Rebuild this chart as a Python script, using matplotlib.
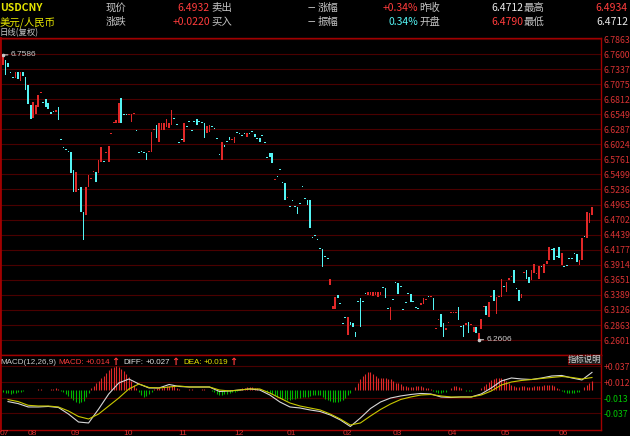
import numpy as np
import matplotlib
matplotlib.use('Agg')
import matplotlib.pyplot as plt
from matplotlib.patches import Rectangle
from matplotlib.transforms import blended_transform_factory, ScaledTranslation

plt.rcParams['font.family'] = ['Noto Sans CJK SC', 'DejaVu Sans']

# daily candles, USDCNY (open / close)
OPEN = [
    6.7409, 6.7496, 6.7444, 6.7272, 6.7184, 6.7181, 6.7286, 6.7129, 6.7286, 6.7199,
    6.7059, 6.6709, 6.6482, 6.6552, 6.6674, 6.6916, 6.6762, 6.6814, 6.6744, 6.6587,
    6.6590, 6.6587, 6.6674, 6.6100, 6.5961, 6.5926, 6.5891, 6.5888, 6.5573, 6.5188,
    6.5226, 6.5276, 6.4839, 6.4786, 6.5276, 6.5413, 6.5535, 6.5538, 6.5520, 6.5713,
    6.5716, 6.5867, 6.5713, 6.6199, 6.6392, 6.6395, 6.6395, 6.6832, 6.6538, 6.6538,
    6.6532, 6.6412, 6.6549, 6.6258, 6.5873, 6.5891, 6.5873, 6.5870, 6.5888, 6.5888,
    6.6269, 6.6360, 6.6062, 6.6272, 6.6272, 6.6325, 6.6307, 6.6360, 6.6468, 6.6363,
    6.6048, 6.6100, 6.6062, 6.6328, 6.6415, 6.6258, 6.6415, 6.6465, 6.6415, 6.6398,
    6.6395, 6.6220, 6.6237, 6.6328, 6.6293, 6.6118, 6.5838, 6.5748, 6.6010, 6.6065,
    6.6150, 6.6094, 6.6045, 6.6223, 6.6205, 6.6170, 6.6205, 6.6150, 6.6205, 6.6240,
    6.6202, 6.6118, 6.6132, 6.6170, 6.6048, 6.5786, 6.5870, 6.5870, 6.5395, 6.5454,
    6.5576, 6.5349, 6.5346, 6.5080, 6.4929, 6.5034, 6.4929, 6.4926, 6.4981, 6.5279,
    6.5069, 6.5048, 6.5048, 6.4387, 6.4422, 6.4352, 6.4195, 6.4192, 6.4055, 6.4020,
    6.3562, 6.3143, 6.3143, 6.3387, 6.3233, 6.2883, 6.2988, 6.2688, 6.2915, 6.2898,
    6.2741, 6.3268, 6.3335, 6.3268, 6.3408, 6.3387, 6.3387, 6.3370, 6.3387, 6.3352,
    6.3387, 6.3513, 6.3510, 6.3146, 6.2950, 6.3303, 6.3600, 6.3597, 6.3530, 6.3128,
    6.3251, 6.3408, 6.3405, 6.3268, 6.3163, 6.3146, 6.3213, 6.3230, 6.3297, 6.3355,
    6.3349, 6.3335, 6.2790, 6.2950, 6.3055, 6.2898, 6.2776, 6.2895, 6.3070, 6.3070,
    6.3070, 6.3178, 6.2831, 6.2863, 6.2863, 6.2915, 6.2860, 6.2741, 6.2828, 6.2606,
    6.2793, 6.3175, 6.3195, 6.3003, 6.3349, 6.3475, 6.3055, 6.3349, 6.3352, 6.3530,
    6.3440, 6.3650, 6.3699, 6.3824, 6.3495, 6.3475, 6.3335, 6.3769, 6.3824, 6.3702,
    6.3650, 6.3772, 6.3752, 6.3667, 6.3880, 6.3772, 6.3929, 6.3999, 6.4177, 6.4209,
    6.4055, 6.4227, 6.3912, 6.3880, 6.3897, 6.4020, 6.4020, 6.4107, 6.4104, 6.3912,
    6.3999, 6.4405, 6.4384, 6.4646, 6.4790,
]
CLOSE = [
    6.7586, 6.7234, 6.7374, 6.7266, 6.7178, 6.7286, 6.7164, 6.7286, 6.7216, 6.6972,
    6.6727, 6.6465, 6.6762, 6.6709, 6.6884, 6.6922, 6.6744, 6.6674, 6.6639, 6.6552,
    6.6584, 6.6622, 6.6447, 6.6094, 6.5955, 6.5920, 6.5885, 6.5520, 6.5188, 6.5538,
    6.5220, 6.4839, 6.4349, 6.5276, 6.5486, 6.5419, 6.5541, 6.5363, 6.5748, 6.5975,
    6.5710, 6.5873, 6.5992, 6.6205, 6.6398, 6.6447, 6.6744, 6.6395, 6.6532, 6.6532,
    6.6538, 6.6552, 6.6555, 6.6252, 6.5867, 6.5885, 6.5867, 6.5748, 6.5905, 6.6237,
    6.6275, 6.6132, 6.6395, 6.6395, 6.6395, 6.6465, 6.6395, 6.6622, 6.6462, 6.6357,
    6.6042, 6.6094, 6.6395, 6.6322, 6.6409, 6.6252, 6.6409, 6.6360, 6.6409, 6.6392,
    6.6132, 6.6342, 6.6360, 6.6322, 6.6287, 6.6112, 6.5832, 6.6062, 6.5975, 6.6059,
    6.6097, 6.6100, 6.6150, 6.6217, 6.6199, 6.6164, 6.6199, 6.6220, 6.6199, 6.6234,
    6.6150, 6.6112, 6.6062, 6.6164, 6.6042, 6.5780, 6.5800, 6.5695, 6.5401, 6.5448,
    6.5570, 6.5343, 6.5048, 6.5086, 6.4923, 6.5028, 6.4923, 6.4804, 6.4975, 6.5273,
    6.5063, 6.4961, 6.4559, 6.4381, 6.4416, 6.4346, 6.4189, 6.3877, 6.4049, 6.4014,
    6.3667, 6.3195, 6.3352, 6.3335, 6.3227, 6.2877, 6.2982, 6.3003, 6.2863, 6.2828,
    6.2653, 6.3262, 6.2828, 6.3262, 6.3402, 6.3440, 6.3440, 6.3440, 6.3440, 6.3440,
    6.3440, 6.3507, 6.3335, 6.3140, 6.3178, 6.3297, 6.3594, 6.3405, 6.3524, 6.3122,
    6.3245, 6.3402, 6.3265, 6.3262, 6.3157, 6.3140, 6.3248, 6.3335, 6.3303, 6.3349,
    6.3355, 6.3125, 6.2796, 6.2968, 6.2828, 6.2653, 6.2811, 6.2901, 6.3076, 6.3076,
    6.3076, 6.2950, 6.2825, 6.2653, 6.2898, 6.2723, 6.2866, 6.2828, 6.2723, 6.2723,
    6.2968, 6.3181, 6.3038, 6.3265, 6.3355, 6.3283, 6.3352, 6.3355, 6.3667, 6.3524,
    6.3615, 6.3685, 6.3705, 6.3597, 6.3489, 6.3283, 6.3405, 6.3775, 6.3667, 6.3597,
    6.3824, 6.3929, 6.3758, 6.3894, 6.3874, 6.3929, 6.3982, 6.4227, 6.4171, 6.3999,
    6.4049, 6.4034, 6.4122, 6.3874, 6.3891, 6.4014, 6.4014, 6.4101, 6.3964, 6.3999,
    6.4384, 6.4399, 6.4839, 6.4821, 6.4932,
]

# MACD histogram, one bar per candle
MACD_HIST = [
    -.004, -.005, -.005, -.006, -.005, -.005, -.004, -.003, -.002, -.001,
    0, -.001, -.001, 0, .001, .001, 0, -.001, 0, .001, .001, .002, .001,
    -.002, -.004, -.007, -.010, -.013, -.016, -.019, -.021, -.020, -.017, -.012, -.005,
    .002, .006, .011, .014, .018, .022, .026, .030, .034, .036, .037, .036, .033, .029,
    .024, .020, .014, .008, .003,
    -.004, -.008, -.011, -.010, -.007, -.003,
    .001, .002, .002, .003, .004, .005, .006, .006, .005, .003, .001, -.001, -.001, 0,
    .001, .001, 0, -.001, 0, .001, .001, 0, -.001,
    -.002, -.004, -.006, -.008, -.008, -.007, -.006, -.005, -.004, -.003, -.002,
    .001, .002, .003, .004, .004, .004, .003, .002, .001, 0,
    -.001, -.003, -.005, -.007, -.009, -.011, -.013, -.014, -.015, -.016,
    -.016, -.015, -.014, -.013, -.013, -.012, -.012, -.011, -.010, -.009,
    -.008, -.008, -.009, -.011, -.014, -.016, -.018, -.019, -.020, -.019,
    -.018, -.016, -.013, -.009, -.005, -.001,
    .004, .010, .016, .021, .025, .028, .027, .024, .021, .019,
    .018, .018, .018, .017, .016, .013, .011, .010, .009, .006,
    .005, .004, .004, .004, .005, .006, .005, .004, .003, .002, .001,
    -.002, -.004, -.005, -.005, -.004, -.003, -.001,
    .002, .005, .006, .004, .002,
    -.001, -.002, -.002, -.002, -.001, -.001, 0,
    .002, .005, .009, .012, .015, .017, .018, .018, .018, .016,
    .013, .010, .007, .005, .004, .004, .005, .005, .004, .004,
    .004, .005, .005, .006, .006, .007, .008, .008, .007, .005, .003, .001,
    -.002, -.004, -.005, -.005, -.005, -.005, -.004, -.003, -.001,
    .004, .007, .011, .014,
]

# DIFF / DEA read every 4th candle, starting at candle 2
DIFF = [
    -.0186, -.0217, -.0270, -.0270, -.0262, -.0278, -.0380, -.0505, -.0520, -.0302,
    -.0067, .0105, .0167, .0089, .0027, .0027, .0081, .0050, .0042, .0042,
    .0042, -.0028, -.0020, -.0005, .0011, -.0005, -.0083, -.0192, -.0270, -.0286,
    -.0317, -.0341, -.0395, -.0473, -.0575, -.0442, -.0294, -.0192, -.0130, -.0098,
    -.0075, -.0059, -.0067, -.0114, -.0122, -.0114, -.0114, -.0067, .0027, .0136,
    .0183, .0167, .0159, .0183, .0214, .0222, .0183, .0152, .0270,
]
DEA = [
    -.0155, -.0186, -.0244, -.0255, -.0255, -.0270, -.0333, -.0419, -.0458, -.0380,
    -.0255, -.0130, .0011, .0089, .0034, .0027, .0042, .0058, .0042, .0042,
    .0042, -.0005, -.0020, -.0005, .0011, .0011, -.0052, -.0130, -.0208, -.0255,
    -.0286, -.0317, -.0380, -.0458, -.0552, -.0520, -.0411, -.0309, -.0223, -.0153,
    -.0114, -.0083, -.0075, -.0098, -.0114, -.0114, -.0114, -.0083, -.0020, .0073,
    .0120, .0144, .0159, .0175, .0191, .0206, .0191, .0167, .0190,
]

PRICE_TICKS = ['6.7863', '6.7600', '6.7337', '6.7075', '6.6812', '6.6549', '6.6287',
               '6.6024', '6.5761', '6.5499', '6.5236', '6.4965', '6.4702', '6.4439',
               '6.4177', '6.3914', '6.3651', '6.3389', '6.3126', '6.2863', '6.2601']
MACD_TICKS = ['+0.037', '+0.012', '-0.013', '-0.037']
MONTHS = ['07', '08', '09', '10', '11', '12', '01', '02', '03', '04', '05', '06']
MONTH_START = [0, 11, 28, 49, 71, 93, 114, 136, 156, 178, 199, 222]

# quote header
LAST, CHANGE, PREV_CLOSE, OPEN_PX = '6.4932', '+0.0220', '6.4712', '6.4790'
HIGH_PX, LOW_PX, PCT, AMPLITUDE = '6.4934', '6.4712', '+0.34%', '0.34%'

RED = '#ff3c3c'
RED_BAR = '#e02828'
CYAN = '#54f4f4'
GREEN = '#00b400'
GREY = '#c4c4c4'
YELLOW = '#e6e600'
GRID = '#4a0000'
BORDER = '#a00000'
LATIN = ['Liberation Sans', 'DejaVu Sans']

W, H = 630, 436
fig = plt.figure(figsize=(W / 100, H / 100), dpi=100, facecolor='black')


def px_axes(x0, y0, x1, y1):
    a = fig.add_axes([x0 / W, 1 - y1 / H, (x1 - x0) / W, (y1 - y0) / H])
    a.set_facecolor('black')
    for s in a.spines.values():
        s.set_color(BORDER)
        s.set_linewidth(1)
    a.set_xticks([])
    return a


def ftext(x, y, s, color=GREY, ha='left', size=7.5, **kw):
    return fig.text(x / W, 1 - y / H, s, color=color, ha=ha, va='center', fontsize=size, **kw)


pitch = 2.517  # pixels per candle
ax = px_axes(0, 38, 601, 355)
axm = px_axes(0, 355, 601, 430)
ax.spines['left'].set_linewidth(2)
axm.spines['left'].set_linewidth(2)
for a in (ax, axm):
    a.set_xlim(-3 / pitch, 598 / pitch)

# ---- candles
o = np.array(OPEN)
c = np.array(CLOSE)
n = len(c)
x = np.arange(n)
cols = np.where(c >= o, RED_BAR, CYAN)
body = np.maximum(np.abs(c - o), 0.0024)   # keep flat candles visible as dots
ax.bar(x, body, bottom=np.minimum(o, c), width=0.66, color=cols, linewidth=0)

ax.set_ylim(6.2339, 6.7881)
tick_vals = [float(t) for t in PRICE_TICKS]
for t in tick_vals:
    ax.axhline(t, color=GRID, lw=0.8, zorder=0)
ax.yaxis.tick_right()
ax.set_yticks(tick_vals)
ax.set_yticklabels(PRICE_TICKS, color='#d83232', fontsize=6.3)
ax.tick_params(axis='y', length=0, pad=2)

# max / min markers
top = np.maximum(o, c)
bot = np.minimum(o, c)
for idx, val in ((int(np.argmax(top)), top.max()), (int(np.argmin(bot)), bot.min())):
    ax.annotate(f'{val:.4f}', xy=(idx, val), xytext=(5.5, 0), textcoords='offset points',
                color='#c8c8c8', fontsize=6, va='center', ha='left', family=LATIN,
                arrowprops=dict(arrowstyle='-', color='#c8c8c8', lw=0.8, shrinkA=0, shrinkB=0))
    ax.plot(idx, val, 'o', ms=1.6, color='#c8c8c8')

# ---- MACD panel
h = np.array(MACD_HIST)
axm.vlines(x, 0, h, colors=np.where(h > 0, RED_BAR, GREEN), lw=0.8)
xs = np.arange(2, n, 4)
axm.plot(xs, DIFF, color='#d8d8d8', lw=0.8)
axm.plot(xs, DEA, color='#c8c800', lw=0.8)
axm.set_ylim(-0.0630, 0.0542)
mvals = [float(t) for t in MACD_TICKS]
for t in mvals:
    axm.axhline(t, color=GRID, lw=0.8, zorder=0)
axm.yaxis.tick_right()
axm.set_yticks(mvals)
axm.set_yticklabels(MACD_TICKS, fontsize=6.3)
for lab, v in zip(axm.get_yticklabels(), mvals):
    lab.set_color('#d83232' if v > 0 else '#00c800')
axm.tick_params(axis='y', length=0, pad=2)

tr = blended_transform_factory(axm.transData, axm.transAxes) + \
    ScaledTranslation(-3 / 100, 0, fig.dpi_scale_trans)
for pos, lab in zip(MONTH_START, MONTHS):
    axm.text(pos, -0.04, lab, transform=tr, ha='left', va='center',
             color='#d83232', fontsize=6, family=LATIN, clip_on=False)

# MACD legend line, laid out piece after piece
renderer = fig.canvas.get_renderer()
pieces = [('MACD(12,26,9)', '#c8c8c8', 2), ('MACD:', RED, 2), (f'{h[-1]:+.3f}', RED, 1),
          ('↑', RED, 4), ('DIFF:', '#e0e0e0', 2), (f'{DIFF[-1]:+.3f}', '#e0e0e0', 1),
          ('↑', RED, 4), ('DEA:', YELLOW, 2), (f'{DEA[-1]:+.3f}', YELLOW, 1), ('↑', RED, 0)]
cx = 0
for s, col, gap in pieces:
    if s == '↑':
        t = ftext(cx, 362, s, col, size=7, family=['DejaVu Sans'], weight='bold')
    else:
        t = ftext(cx, 362, s, col, size=5.8, family=LATIN)
    cx = t.get_window_extent(renderer).x1 + gap

fig.add_artist(Rectangle((568 / W, 1 - 364 / H), 33 / W, 9 / H, transform=fig.transFigure,
                         facecolor='#222222', edgecolor='#7a0000', lw=0.8))
ftext(584.5, 359.5, '指标说明', '#d0d0d0', ha='center', size=6)

# ---- quote header
ftext(0, 8, 'USDCNY', YELLOW, weight='bold')
ftext(0, 22, '美元/人民币', YELLOW)
ftext(106, 8, '现价')
ftext(106, 22, '涨跌')
ftext(210, 8, LAST, RED, ha='right')
ftext(210, 22, CHANGE, RED, ha='right')
ftext(211, 8, '卖出')
ftext(211, 22, '买入')
ftext(315, 8, '—', '#e0e0e0', ha='right', size=6)
ftext(315, 22, '—', '#e0e0e0', ha='right', size=6)
ftext(318, 8, '涨幅')
ftext(318, 22, '振幅')
ftext(418, 8, PCT, RED, ha='right')
ftext(418, 22, AMPLITUDE, CYAN, ha='right')
ftext(419, 8, '昨收')
ftext(419, 22, '开盘')
ftext(523, 8, PREV_CLOSE, '#e8e8e8', ha='right')
ftext(523, 22, OPEN_PX, RED, ha='right')
ftext(524, 8, '最高')
ftext(524, 22, '最低')
ftext(628, 8, HIGH_PX, RED, ha='right')
ftext(628, 22, LOW_PX, '#e8e8e8', ha='right')
ftext(0, 33, '日线(复权)', '#c8c8c8', size=6)

fig.savefig('out.png', dpi=100, facecolor='black')
